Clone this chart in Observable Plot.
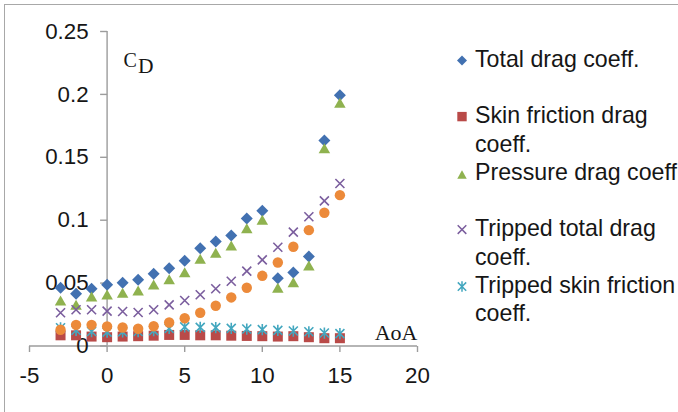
<!DOCTYPE html>
<html>
<head>
<meta charset="utf-8">
<script src="https://cdn.jsdelivr.net/npm/d3@7"></script>
<script src="https://cdn.jsdelivr.net/npm/@observablehq/plot@0.6"></script>
<style>
  html, body { margin: 0; padding: 0; background: #fff; overflow: hidden; }
  #wrap { position: relative; width: 678px; height: 412px; overflow: hidden; }
  #border { position: absolute; left: 4px; top: 4px; width: 700px; height: 420px;
            border-top: 1.5px solid #a8a8a8; border-left: 1.5px solid #a8a8a8; }
  #chart { position: absolute; left: 0; top: 0; }
  #legend { position: absolute; left: 452px; top: 44.8px; font-family: "Liberation Sans", Arial, sans-serif;
            font-size: 23.2px; color: #161616; }
  .entry { height: 56.5px; display: flex; align-items: flex-start; }
  .entry svg { width: 20px; height: 28.5px; margin-right: 3px; flex: none; }
  .entry span { white-space: pre; line-height: 28.5px; }
</style>
</head>
<body>
<div id="wrap">
  <div id="border"></div>
  <div id="chart"></div>
  <div id="legend"></div>
</div>
<script>
// ---- data ----
const aoa = [-3, -2, -1, 0, 1, 2, 3, 4, 5, 6, 7, 8, 9, 10, 11, 12, 13, 14, 15];
const totalDrag = [0.0463, 0.0415, 0.0455, 0.0486, 0.0502, 0.0526, 0.0574, 0.0619, 0.0677, 0.0777, 0.0831, 0.0878, 0.1013, 0.1075, 0.0539, 0.0584, 0.0711, 0.1634, 0.1994];
const skinDrag = [0.0085, 0.0085, 0.0075, 0.0070, 0.0075, 0.0078, 0.0082, 0.0088, 0.0088, 0.0085, 0.0085, 0.0082, 0.0080, 0.0078, 0.0075, 0.0078, 0.0070, 0.0062, 0.0062];
const pressureDrag = [0.0362, 0.0327, 0.0393, 0.0410, 0.0423, 0.0441, 0.0489, 0.0531, 0.0587, 0.0693, 0.0741, 0.0799, 0.0937, 0.1003, 0.0463, 0.0507, 0.0640, 0.1572, 0.1933];
const trippedTotal = [0.0264, 0.0288, 0.0288, 0.0277, 0.0274, 0.0266, 0.0288, 0.0327, 0.0362, 0.0407, 0.0455, 0.0515, 0.0595, 0.0685, 0.0785, 0.0905, 0.1027, 0.1154, 0.1292];
const trippedSkin = [0.0145, 0.0125, 0.0115, 0.0110, 0.0112, 0.0115, 0.0122, 0.0140, 0.0152, 0.0148, 0.0146, 0.0140, 0.0135, 0.0130, 0.0124, 0.0119, 0.0113, 0.0103, 0.0098];
const trippedPressure = [0.0129, 0.0168, 0.0168, 0.0155, 0.0147, 0.0137, 0.0157, 0.0187, 0.0221, 0.0264, 0.0320, 0.0386, 0.0463, 0.0558, 0.0664, 0.0789, 0.0921, 0.1059, 0.1199];

const legendLabels = ["Total drag coeff.", "Skin friction drag\ncoeff.", "Pressure drag coeff.", "Tripped total drag\ncoeff.", "Tripped skin friction\ncoeff."];
const xTicks = [-5, 0, 5, 10, 15, 20];
const xTickLabels = ["-5", "0", "5", "10", "15", "20"];
const yTicks = [0, 0.05, 0.1, 0.15, 0.2, 0.25];
const yTickLabels = ["0", "0.05", "0.1", "0.15", "0.2", "0.25"];

// ---- styles ----
const colors = ["#4271B1", "#B94A48", "#8FB24F", "#7B5E9E", "#43A7BF", "#EC8A3A"];
const axisColor = "#9c9c9c";

const mkDiamond = h => ({draw(c){ c.moveTo(0,-h); c.lineTo(h,0); c.lineTo(0,h); c.lineTo(-h,0); c.closePath(); }});
const mkSquare = h => ({draw(c){ c.rect(-h,-h,2*h,2*h); }});
const mkTriangle = (w,t) => ({draw(c){ c.moveTo(0,-t/2); c.lineTo(w/2,t/2); c.lineTo(-w/2,t/2); c.closePath(); }});
const mkTimes = h => ({draw(c){ c.moveTo(-h,-h); c.lineTo(h,h); c.moveTo(-h,h); c.lineTo(h,-h); }});
const mkStar = h => ({draw(c){ c.moveTo(-h,-h); c.lineTo(h,h); c.moveTo(-h,h); c.lineTo(h,-h); c.moveTo(0,-h*1.25); c.lineTo(0,h*1.25); }});
const mkCircle = r => ({draw(c){ c.moveTo(r,0); c.arc(0,0,r,0,2*Math.PI); }});
const tickLeft = {draw(c){ c.moveTo(-7,0); c.lineTo(0,0); }};
const tickDown = {draw(c){ c.moveTo(0,0); c.lineTo(0,6); }};

const series = [
  {values: totalDrag, sym: mkDiamond(6), lsym: mkDiamond(5), filled: true},
  {values: skinDrag, sym: mkSquare(5), lsym: mkSquare(4.7), filled: true},
  {values: pressureDrag, sym: mkTriangle(11.5, 10), lsym: mkTriangle(9.5, 8.5), filled: true},
  {values: trippedTotal, sym: mkTimes(4.5), lsym: mkTimes(4.3), filled: false},
  {values: trippedSkin, sym: mkStar(4.5), lsym: mkStar(4.2), filled: false},
  {values: trippedPressure, sym: mkCircle(5.2), lsym: null, filled: true}
];

const dataMarks = series.map((s, k) => {
  const rows = aoa.map((a, i) => ({a, v: s.values[i]}));
  return Plot.dot(rows, s.filled
    ? {x: "a", y: "v", symbol: s.sym, fill: colors[k], stroke: "none", r: 5}
    : {x: "a", y: "v", symbol: s.sym, fill: "none", stroke: colors[k], strokeWidth: 1.6, r: 5});
});

const chart = Plot.plot({
  width: 678,
  height: 412,
  marginLeft: 29,
  marginRight: 261,
  marginTop: 31,
  marginBottom: 66.5,
  x: {domain: [-5, 20], axis: null},
  y: {domain: [0, 0.25], axis: null},
  style: {fontFamily: "'Liberation Sans', Arial, sans-serif", fontSize: "22px", background: "transparent", overflow: "visible"},
  marks: [
    Plot.ruleX([0], {y1: 0, y2: 0.25, stroke: axisColor, strokeWidth: 1.4}),
    Plot.ruleY([0], {x1: -5, x2: 20, stroke: axisColor, strokeWidth: 1.4}),
    Plot.dot(yTicks, {x: 0, y: d => d, symbol: tickLeft, fill: "none", stroke: axisColor, strokeWidth: 1.4}),
    Plot.dot(xTicks, {x: d => d, y: 0, symbol: tickDown, fill: "none", stroke: axisColor, strokeWidth: 1.4}),
    Plot.text(yTicks, {x: 0, y: d => d, text: (d, i) => yTickLabels[i], dx: -18.5, textAnchor: "end", lineAnchor: "middle", fill: "#161616", fontSize: 22.3}),
    Plot.text(xTicks, {x: d => d, y: 0, text: (d, i) => xTickLabels[i], dy: 29.5, textAnchor: "middle", lineAnchor: "middle", fill: "#161616", fontSize: 22.3}),
    Plot.text(["C"], {frameAnchor: "top-left", dx: 94, dy: 35.7, textAnchor: "start", lineAnchor: "bottom", fontFamily: "'Liberation Serif', 'Times New Roman', serif", fontSize: 20, fill: "#161616"}),
    Plot.text(["D"], {frameAnchor: "top-left", dx: 108.5, dy: 41.7, textAnchor: "start", lineAnchor: "bottom", fontFamily: "'Liberation Serif', 'Times New Roman', serif", fontSize: 21.5, fill: "#161616"}),
    Plot.text(["AoA"], {frameAnchor: "bottom-right", dx: 0, dy: -6.2, textAnchor: "end", lineAnchor: "bottom", fontFamily: "'Liberation Serif', 'Times New Roman', serif", fontSize: 22, fill: "#161616"}),
    ...dataMarks
  ]
});
document.getElementById("chart").appendChild(chart);

// ---- legend ----
const legend = d3.select("#legend");
legendLabels.forEach((label, k) => {
  const s = series[k];
  const e = legend.append("div").attr("class", "entry");
  const svg = e.append("svg");
  const path = svg.append("path")
    .attr("transform", `translate(10,${k === 2 ? 16.5 : 15.6})`)
    .attr("d", d3.symbol(s.lsym, 64)());
  if (s.filled) path.attr("fill", colors[k]);
  else path.attr("fill", "none").attr("stroke", colors[k]).attr("stroke-width", 1.5);
  e.append("span").text(label);
});
</script>
</body>
</html>
